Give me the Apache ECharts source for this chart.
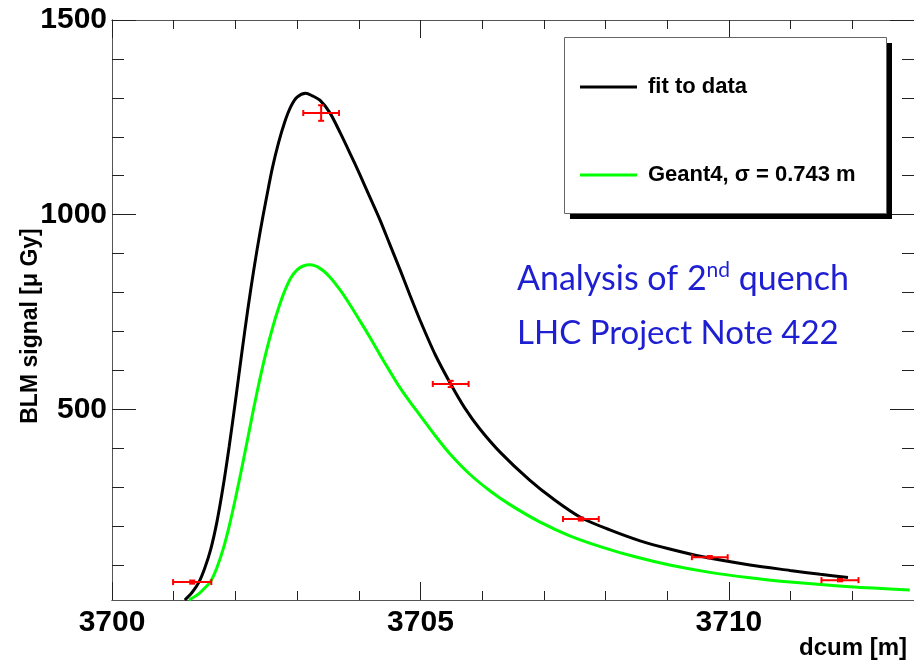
<!DOCTYPE html>
<html><head><meta charset="utf-8">
<script src="https://cdn.jsdelivr.net/npm/echarts@6/dist/echarts.min.js"></script>
<style>html,body{margin:0;padding:0;background:#fff}#c{width:914px;height:662px}</style>
</head><body><div id="c"></div>
<script>
// ---- data ----
const xTickLabels = [3700, 3705, 3710];
const xMinorTicks = [3700,3701,3702,3703,3704,3705,3706,3707,3708,3709,3710,3711,3712,3713];
const yTickLabels = [500, 1000, 1500];
const yMinorTicks = [100,200,300,400,500,600,700,800,900,1000,1100,1200,1300,1400,1500];

const fitX = [3701.18,3701.30,3701.41,3701.50,3701.60,3701.70,3701.80,3701.90,3702.00,3702.10,3702.20,3702.30,3702.40,3702.50,3702.60,3702.70,3702.80,3702.90,3703.00,3703.14,3703.25,3703.37,3703.53,3703.70,3703.86,3704.02,3704.18,3704.34,3704.50,3704.67,3704.83,3704.99,3705.24,3705.49,3705.72,3705.96,3706.29,3706.77,3707.15,3707.60,3708.07,3708.56,3709.04,3709.58,3710.34,3710.99,3711.48,3711.93];
const fitY = [10,30,56,90,140,210,300,405,520,640,755,860,955,1040,1120,1185,1238,1278,1302,1312,1305,1294,1262,1210,1157,1102,1045,988,925,858,793,730,640,565,503,450,390,318,270,222,190,162,141,121,100,86,76,68];

const g4X = [3701.25,3701.40,3701.50,3701.60,3701.70,3701.80,3701.90,3702.00,3702.10,3702.20,3702.30,3702.40,3702.50,3702.60,3702.70,3702.80,3702.90,3703.00,3703.10,3703.21,3703.37,3703.53,3703.70,3703.86,3704.02,3704.18,3704.34,3704.51,3704.67,3704.83,3704.99,3705.24,3705.48,3705.80,3706.13,3706.45,3706.94,3707.42,3707.94,3708.48,3709.04,3709.69,3710.34,3710.99,3711.96,3712.93];
const g4Y = [10,25,40,58,93,140,200,270,346,425,505,580,648,708,760,804,838,858,868,871,862,840,806,768,727,685,641,596,555,519,485,432,385,333,290,255,210,175,146,121,100,81,67,56,44,36];

const ptX = [3701.30, 3703.39, 3705.49, 3707.60, 3709.69, 3711.80];
const ptY = [56, 1261, 565, 218, 120, 61];
const ptXErr = [0.31, 0.29, 0.29, 0.29, 0.29, 0.30];
const ptYErr = [4, 20, 8, 4, 3, 3];

const seriesNames = ['fit to data', 'Geant4, \u03c3 = 0.743 m'];

// ---- chart ----
const FONT = '"Liberation Sans", Arial, Helvetica, sans-serif';
const BLUE_FONT = 'Lato, "Open Sans", sans-serif';
const BLUE = '#1e1ed2';
const chart = echarts.init(document.getElementById('c'), null, {renderer: 'canvas'});
const axisLineStyle = {color: '#555', width: 1};
const tickStyle = {color: '#222', width: 1};
const plain = v => String(v);

function xAxisDef(pos, major, showLabel, extra) {
  return Object.assign({
    type: 'value', position: pos, min: 3700, max: 3713,
    axisLine: {show: true, onZero: false, lineStyle: axisLineStyle},
    axisTick: {show: true, inside: true, length: major ? 18 : 9, lineStyle: tickStyle,
               customValues: major ? xTickLabels : xMinorTicks},
    axisLabel: {show: showLabel, customValues: xTickLabels, margin: 8, formatter: plain,
                fontSize: 30, fontWeight: 'bold', fontFamily: FONT, color: '#000'},
    splitLine: {show: false}
  }, extra || {});
}
function yAxisDef(pos, major, showLabel, extra) {
  return Object.assign({
    type: 'value', position: pos, min: 10, max: 1500,
    axisLine: {show: true, onZero: false, lineStyle: axisLineStyle},
    axisTick: {show: true, inside: true, length: major ? 24 : 12, lineStyle: tickStyle,
               customValues: major ? yTickLabels : yMinorTicks},
    axisLabel: {show: showLabel, customValues: yTickLabels, margin: 5, formatter: plain,
                fontSize: 30, fontWeight: 'bold', fontFamily: FONT, color: '#000'},
    splitLine: {show: false}
  }, extra || {});
}

const legendText = {fontSize: 22, fontWeight: 'bold', fontFamily: FONT, color: '#000', padding: [0, 0, 0, 6]};

const option = {
  animation: false,
  backgroundColor: '#fff',
  grid: {left: 112, top: 20, width: 802, height: 580, containLabel: false, outerBoundsMode: 'none'},
  xAxis: [
    xAxisDef('bottom', false, true, {
      name: 'dcum [m]', nameLocation: 'end', nameGap: -7, nameMoveOverlap: false,
      nameTextStyle: {fontSize: 24, fontWeight: 'bold', fontFamily: FONT, color: '#000',
                      align: 'right', verticalAlign: 'top', padding: [36, 0, 0, 0]}
    }),
    xAxisDef('bottom', true, false),
    xAxisDef('top', false, false),
    xAxisDef('top', true, false)
  ],
  yAxis: [
    yAxisDef('left', false, true, {
      name: 'BLM signal [\u03bc Gy]', nameLocation: 'middle', nameGap: 70, nameRotate: 90,
      nameMoveOverlap: false,
      nameTextStyle: {fontSize: 23, fontWeight: 'bold', fontFamily: FONT, color: '#000', padding: [0, 32, 0, 0]}
    }),
    yAxisDef('left', true, false),
    yAxisDef('right', false, false),
    yAxisDef('right', true, false)
  ],
  legend: [
    {data: [seriesNames[0]], left: 575, top: 71, orient: 'vertical', icon: 'rect',
     itemWidth: 57, itemHeight: 3, selectedMode: false, textStyle: legendText},
    {data: [seriesNames[1]], left: 575, top: 159, orient: 'vertical', icon: 'rect',
     itemWidth: 57, itemHeight: 3, selectedMode: false, textStyle: legendText}
  ],
  graphic: [
    {type: 'rect', z: 1, shape: {x: 570, y: 43, width: 322, height: 176}, style: {fill: '#000'}},
    {type: 'rect', z: 2, shape: {x: 564.5, y: 37.5, width: 322, height: 176}, style: {fill: '#fff', stroke: '#666', lineWidth: 1}},
    {type: 'text', z: 5, left: 517, top: 260, style: {
      text: '{a|Analysis of 2}{s|nd}{a| quench}', fill: BLUE,
      rich: {
        a: {fontSize: 34, fontFamily: BLUE_FONT, fill: BLUE, lineHeight: 42, verticalAlign: 'bottom'},
        s: {fontSize: 21, fontFamily: BLUE_FONT, fill: BLUE, lineHeight: 42, padding: [0, 0, 15, 0], verticalAlign: 'bottom'}
      }}},
    {type: 'text', z: 5, left: 517, top: 317, style: {
      text: 'LHC Project Note 422', fill: BLUE,
      font: '33px ' + BLUE_FONT}}
  ],
  series: [
    {name: seriesNames[0], type: 'line', xAxisIndex: 0, yAxisIndex: 0, color: '#000',
     showSymbol: false, smooth: 0.3, lineStyle: {width: 3, color: '#000'},
     data: fitX.map((x, i) => [x, fitY[i]]), z: 3},
    {name: seriesNames[1], type: 'line', xAxisIndex: 0, yAxisIndex: 0, color: '#00ff00',
     showSymbol: false, smooth: 0.3, lineStyle: {width: 3, color: '#00ff00'},
     data: g4X.map((x, i) => [x, g4Y[i]]), z: 3},
    {name: 'data', type: 'custom', xAxisIndex: 0, yAxisIndex: 0, z: 4,
     data: ptX.map((x, i) => [x, ptY[i], ptXErr[i], ptYErr[i]]),
     renderItem: function (params, api) {
       const x = api.value(0), y = api.value(1), ex = api.value(2), ey = api.value(3);
       const l = api.coord([x - ex, y]), r = api.coord([x + ex, y]);
       const t = api.coord([x, y + ey]), b = api.coord([x, y - ey]);
       const st = {stroke: '#ff0000', lineWidth: 2};
       const c = 3;
       const kids = [
         {type: 'line', shape: {x1: l[0], y1: l[1], x2: r[0], y2: r[1]}, style: st},
         {type: 'line', shape: {x1: l[0], y1: l[1] - c, x2: l[0], y2: l[1] + c}, style: st},
         {type: 'line', shape: {x1: r[0], y1: r[1] - c, x2: r[0], y2: r[1] + c}, style: st},
         {type: 'line', shape: {x1: t[0], y1: t[1], x2: b[0], y2: b[1]}, style: st},
         {type: 'line', shape: {x1: t[0] - c, y1: t[1], x2: t[0] + c, y2: t[1]}, style: st},
         {type: 'line', shape: {x1: b[0] - c, y1: b[1], x2: b[0] + c, y2: b[1]}, style: st}
       ];
       return {type: 'group', children: kids};
     }}
  ]
};
chart.setOption(option);
</script>
</body></html>
